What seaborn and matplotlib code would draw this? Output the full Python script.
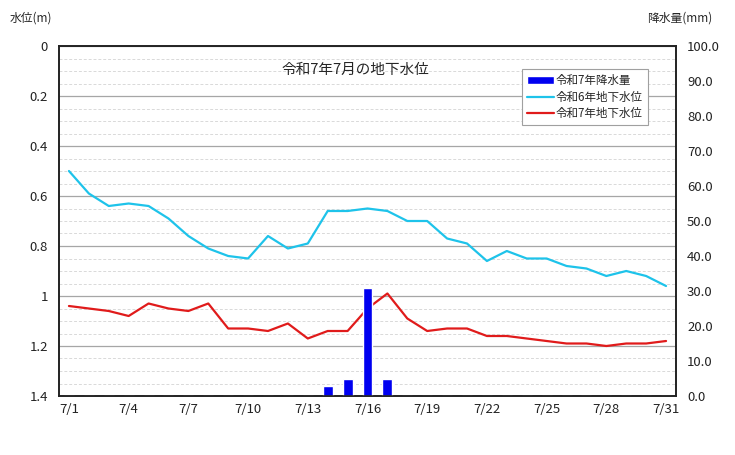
import matplotlib
matplotlib.use("Agg")
import matplotlib.pyplot as plt
import seaborn as sns
import numpy as np
import pandas as pd

# data
days = [f"7/{d}" for d in range(1, 32)]
level_r6 = [0.50, 0.59, 0.64, 0.63, 0.64, 0.69, 0.76, 0.81, 0.84, 0.85,
            0.76, 0.81, 0.79, 0.66, 0.66, 0.65, 0.66, 0.70, 0.70, 0.77,
            0.79, 0.86, 0.82, 0.85, 0.85, 0.88, 0.89, 0.92, 0.90, 0.92, 0.96]
level_r7 = [1.04, 1.05, 1.06, 1.08, 1.03, 1.05, 1.06, 1.03, 1.13, 1.13,
            1.14, 1.11, 1.17, 1.14, 1.14, 1.05, 0.99, 1.09, 1.14, 1.13,
            1.13, 1.16, 1.16, 1.17, 1.18, 1.19, 1.19, 1.20, 1.19, 1.19, 1.18]
rain_r7 = [0, 0, 0, 0, 0, 0, 0, 0, 0, 0,
           0, 0, 0, 3.0, 5.0, 31.0, 5.0, 0, 0, 0,
           0, 0, 0, 0, 0, 0, 0, 0, 0, 0, 0]
xtick_labels = ["7/1", "7/4", "7/7", "7/10", "7/13", "7/16", "7/19", "7/22", "7/25", "7/28", "7/31"]
left_ticks = [0, 0.2, 0.4, 0.6, 0.8, 1.0, 1.2, 1.4]
left_labels = ["0", "0.2", "0.4", "0.6", "0.8", "1", "1.2", "1.4"]
right_ticks = list(range(0, 101, 10))

df = pd.DataFrame({"day": days, "pos": np.arange(len(days)),
                   "r6": level_r6, "r7": level_r7, "rain": rain_r7})

sns.set_style("white")
plt.rcParams["font.family"] = ["Noto Sans CJK JP", "DejaVu Sans"]

fig = plt.figure(figsize=(7.35, 4.55), dpi=100)
ax = fig.add_axes([59 / 735, 1 - 396 / 455, 617 / 735, 350 / 455])
ax2 = ax.twinx()

c6 = "#1ec3ea"
c7 = "#e01b1b"
cb = "#0000f0"

sns.lineplot(data=df, x="pos", y="r6", ax=ax, color=c6, lw=1.6, label="令和6年地下水位", legend=False)
sns.lineplot(data=df, x="pos", y="r7", ax=ax, color=c7, lw=1.6, label="令和7年地下水位", legend=False)
sns.barplot(data=df, x="pos", y="rain", ax=ax2, color=cb, width=0.5, saturation=1,
            label="令和7年降水量", native_scale=True)

ax.set_xlim(-0.5, 30.5)
ax.set_ylim(1.4, 0)
ax2.set_ylim(0, 100)

ax.set_yticks(left_ticks)
ax.set_yticklabels(left_labels)
ax.set_yticks(np.arange(0, 1.401, 0.05), minor=True)
ax.grid(which="major", axis="y", color="#a6a6a6", lw=0.9, ls="-")
ax.grid(which="minor", axis="y", color="#d9d9d9", lw=0.7, ls=(0, (3, 2)))
ax.set_axisbelow(True)

ax2.set_yticks(right_ticks)
ax2.set_yticklabels([f"{v:.1f}" for v in right_ticks])
ax2.set_xticks([days.index(t) for t in xtick_labels])
ax2.set_xticklabels(xtick_labels)
ax.set_xticks([days.index(t) for t in xtick_labels])
ax.set_xticklabels(xtick_labels)

for a in (ax, ax2):
    a.set_xlabel("")
    a.set_ylabel("")
    a.tick_params(which="both", length=0, labelsize=9.5, colors="#222222")
    for s in a.spines.values():
        s.set_color("#222222")
        s.set_linewidth(1.2)
ax.tick_params(axis="y", pad=8)
ax2.tick_params(axis="y", pad=8)
ax.tick_params(axis="x", pad=5)

fig.text(10 / 735, 1 - 18 / 455, "水位(m)", fontsize=8.5, va="center", ha="left")
fig.text(712 / 735, 1 - 18 / 455, "降水量(mm)", fontsize=8.5, va="center", ha="right")
fig.text(355 / 735, 1 - 70 / 455, "令和7年7月の地下水位", fontsize=10.5, va="center", ha="center")

h2, l2 = ax2.get_legend_handles_labels()
h1, l1 = ax.get_legend_handles_labels()
leg = ax2.legend(h2[:1] + h1, l2[:1] + l1, loc="upper left",
                 bbox_to_anchor=((522 - 59) / 617, (396 - 69) / 350),
                 fontsize=8.3, frameon=True, fancybox=False, framealpha=1,
                 edgecolor="#a0a0a0", borderpad=0.45, labelspacing=0.3,
                 handlelength=2.3, handleheight=0.6, handletextpad=0.15,
                 borderaxespad=0)
leg.get_frame().set_linewidth(0.8)

fig.savefig("out.png", dpi=100)
